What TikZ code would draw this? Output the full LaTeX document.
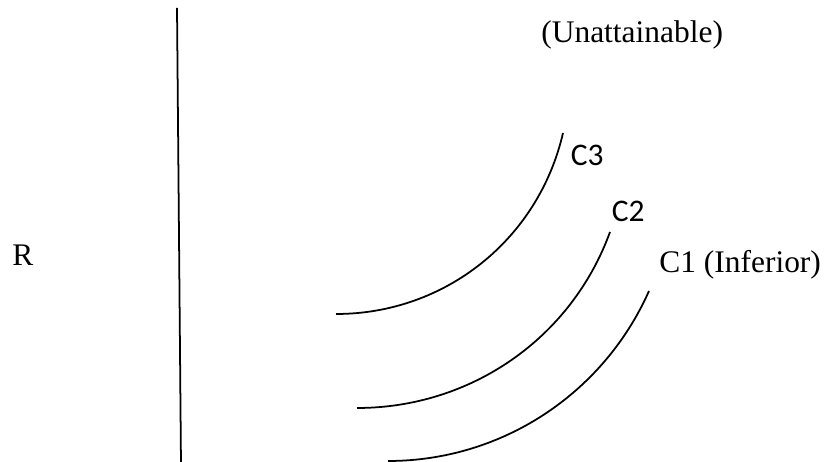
\documentclass[tikz,border=0pt]{standalone}
\usepackage{fontspec}
\setmainfont{Liberation Serif}
\newfontfamily\calibrifont{Carlito}
\usetikzlibrary{positioning,calc}
\tikzset{
  axisline/.style={draw=black,line width=1pt},
  curve/.style={draw=black,line width=1pt},
  label/.style={font=\fontsize{17.9}{21}\selectfont,text=black,inner sep=0pt,anchor=base west},
  clabel/.style={font=\calibrifont\fontsize{17.9}{21}\selectfont,text=black,inner sep=0pt,anchor=base west},
}
\begin{document}
\begin{tikzpicture}[x=0.02cm,y=0.02cm]
\useasboundingbox (0,0) rectangle (824,462);

% divider ---------------------------------------------------------------------
\coordinate (divtop) at (177,454);
\coordinate (divbot) at (181,-3);
\draw[axisline] (divtop) -- (divbot);
\node[label] (rlab) at (12,196) {R};

% indifference curves ---------------------------------------------------------
\coordinate (c3start) at (336,148);
\coordinate (c3end) at (563,329);
\coordinate (c2start) at (357,54);
\coordinate (c2end) at (610,230);
\coordinate (c1start) at (388,1);
\coordinate (c1end) at (649,171);
\draw[curve] (c3start) to[out=0,in=-103,looseness=0.96] (c3end);
\draw[curve] (c2start) to[out=0,in=-110,looseness=0.94] (c2end);
\draw[curve] (c1start) to[out=0,in=-114,looseness=0.93] (c1end);

% labels ----------------------------------------------------------------------
\node[clabel] (c3lab) at (570.5,296) {C3};
\node[clabel] (c2lab) at (611.5,240) {C2};
\node[label] (c1lab) at (659,189) {C1 (Inferior)};
\node[label] (unatt) at (541,419) {(Unattainable)};

\end{tikzpicture}
\end{document}
